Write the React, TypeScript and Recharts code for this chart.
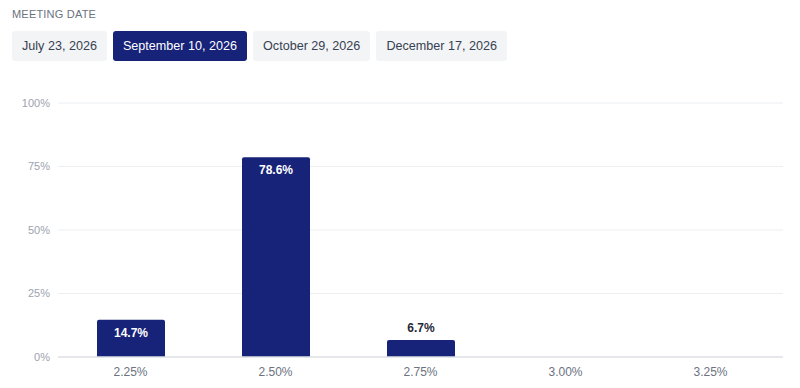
import { BarChart, Bar, CartesianGrid, XAxis, YAxis, LabelList } from 'recharts';

const meetingDates = ['July 23, 2026', 'September 10, 2026', 'October 29, 2026', 'December 17, 2026'];
const selectedMeeting = 'September 10, 2026';

const targetRates = ['2.25%', '2.50%', '2.75%', '3.00%', '3.25%'];
const probabilities = [14.7, 78.6, 6.7, 0, 0];
const yTicks = [0, 25, 50, 75, 100];

const NAVY = '#172279';
const FONT = 'Arial, "Liberation Sans", Helvetica, sans-serif';

const data = targetRates.map((rate, i) => ({ rate, prob: probabilities[i] }));

function BarValueLabel(props: any) {
  const { x, y, width, height, value } = props;
  if (!value) return null;
  const inside = height > 24;
  return (
    <text
      x={x + width / 2}
      y={inside ? y + 13 : y - 12}
      textAnchor="middle"
      dominantBaseline="central"
      fontFamily={FONT}
      fontSize={12}
      fontWeight={700}
      fill={inside ? '#ffffff' : '#1f2937'}
    >
      {`${value.toFixed(1)}%`}
    </text>
  );
}

export default function App() {
  return (
    <div style={{ width: 800, height: 388, position: 'relative', background: '#fff', fontFamily: FONT }}>
      <style>{'body{margin:0}'}</style>
      <div style={{ position: 'absolute', left: 12, top: 8, fontSize: 11, color: '#6b7280', letterSpacing: 0.2 }}>
        MEETING DATE
      </div>
      <div style={{ position: 'absolute', left: 12, top: 31, display: 'flex', gap: 6 }}>
        {meetingDates.map((d) => {
          const active = d === selectedMeeting;
          return (
            <div
              key={d}
              style={{
                height: 30,
                lineHeight: '30px',
                padding: '0 10px',
                fontSize: 12.6,
                borderRadius: 3,
                background: active ? NAVY : '#f3f4f6',
                color: active ? '#ffffff' : '#374151',
              }}
            >
              {d}
            </div>
          );
        })}
      </div>
      <div style={{ position: 'absolute', left: 0, top: 88 }}>
        <BarChart width={800} height={300} data={data} margin={{ top: 15, right: 17, left: 0, bottom: 1 }}>
          <CartesianGrid vertical={false} stroke="#eceef1" />
          <XAxis
            dataKey="rate"
            axisLine={{ stroke: '#dfe2e7', strokeWidth: 1.5 }}
            tickLine={false}
            height={30}
            tick={{ fontSize: 12, fill: '#6b7280', fontFamily: FONT }}
            tickMargin={4}
          />
          <YAxis
            domain={[0, 100]}
            ticks={yTicks}
            tickFormatter={(v) => `${v}%`}
            axisLine={false}
            tickLine={false}
            width={58}
            tick={{ fontSize: 11, fill: '#9ca3af', fontFamily: FONT }}
          />
          <Bar dataKey="prob" fill={NAVY} barSize={68} radius={[2, 2, 0, 0]} isAnimationActive={false}>
            <LabelList dataKey="prob" content={<BarValueLabel />} />
          </Bar>
        </BarChart>
      </div>
    </div>
  );
}
